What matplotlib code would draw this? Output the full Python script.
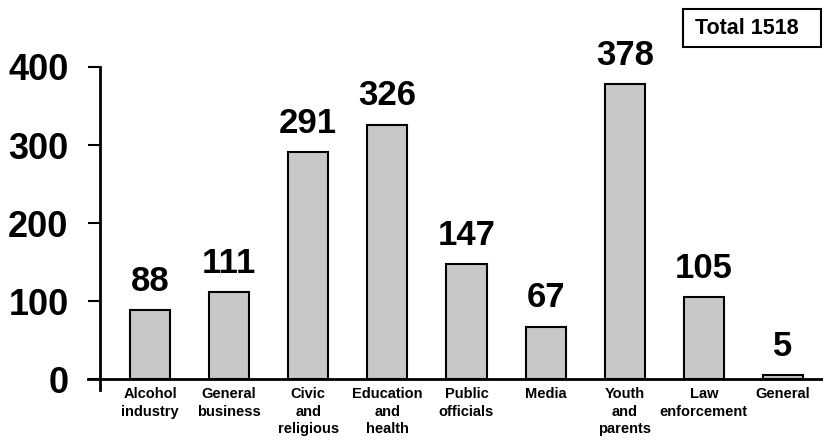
import matplotlib
matplotlib.use("Agg")
from matplotlib import pyplot as plt
from matplotlib.patches import Rectangle
from matplotlib.transforms import offset_copy

categories = ["Alcohol\nindustry", "General\nbusiness", "Civic\nand\nreligious",
              "Education\nand\nhealth", "Public\nofficials", "Media",
              "Youth\nand\nparents", "Law\nenforcement", "General"]
counts = [88, 111, 291, 326, 147, 67, 378, 105, 5]
y_ticks = [0, 100, 200, 300, 400]
total_label = "Total 1518"

plt.rcParams["font.family"] = ["Liberation Sans", "DejaVu Sans"]
plt.rcParams["font.weight"] = "bold"

fig = plt.figure(figsize=(8.23, 4.4), dpi=100)
ax = fig.add_axes([88 / 823, 50 / 440, 735 / 823, 323 / 440])

positions = list(range(len(counts)))
ax.bar(positions, counts, width=0.506, color="#c8c8c8", edgecolor="black", linewidth=1.5)

# value labels sit a fixed distance above each bar
label_trans = offset_copy(ax.transData, fig=fig, x=0, y=14, units="points")
for pos, value in zip(positions, counts):
    ax.text(pos, value, str(value), transform=label_trans,
            ha="center", va="baseline", fontsize=25, fontweight="bold")

ax.set_xlim(-0.784, 8.506)
ax.set_ylim(-14.1, 400)

ax.spines["top"].set_visible(False)
ax.spines["right"].set_visible(False)
ax.spines["left"].set_position(("axes", 12 / 735))
ax.spines["bottom"].set_position(("data", 0))
ax.spines["left"].set_linewidth(2)
ax.spines["bottom"].set_linewidth(2)

ax.set_yticks(y_ticks)
ax.set_yticklabels([str(t) for t in y_ticks], fontsize=26, fontweight="bold")
ax.tick_params(axis="y", direction="out", length=8.6, width=1.5, pad=14)

ax.set_xticks(positions)
ax.set_xticklabels(categories, fontsize=10.5, fontweight="bold", linespacing=1.3)
ax.tick_params(axis="x", length=0, pad=6)

fig.patches.append(Rectangle((683 / 823, (440 - 47) / 440), 138 / 823, 38 / 440,
                             transform=fig.transFigure, fill=False, linewidth=1.5,
                             edgecolor="black"))
fig.text(695 / 823, (440 - 28) / 440, total_label, fontsize=15.5, fontweight="bold",
         ha="left", va="center")

fig.savefig("out.png", dpi=100)
